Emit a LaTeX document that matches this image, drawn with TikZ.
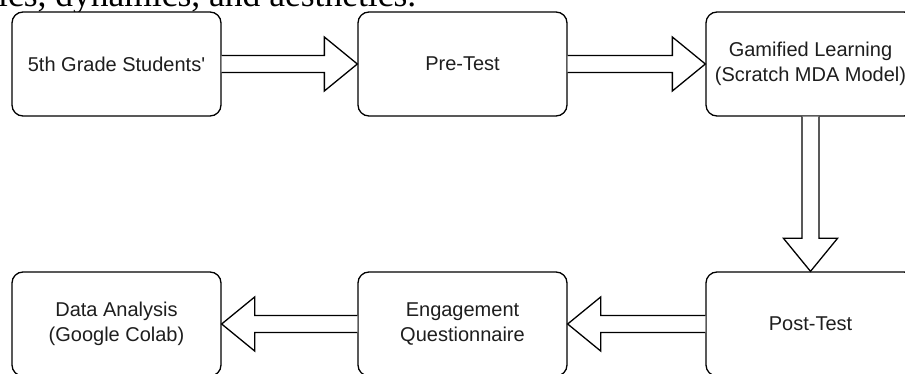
\documentclass[tikz,border=0pt]{standalone}
\usepackage{fontspec}
\setmainfont{Liberation Sans}[Ligatures=TeXOff]
\newfontfamily\serifcut{Liberation Serif}
\usetikzlibrary{calc}
\definecolor{txt}{HTML}{1E1E1E}
\tikzset{
  stepbox/.style={draw=black, line width=1.3pt, rounded corners=11pt, fill=white,
    minimum width=209pt, minimum height=104pt, inner sep=0pt, align=center,
    text=txt, font=\fontsize{20}{25}\selectfont},
  blockarrow/.style={draw=black, line width=1.3pt, fill=white, line join=miter,
    to path={
      let \p1=($(\tikztotarget)!33pt!(\tikztostart)$) in
      ($(\tikztostart)!8.5pt!90:(\tikztotarget)$) --
      ($(\p1)!8.5pt!90:(\tikztotarget)$) --
      ($(\p1)!27pt!90:(\tikztotarget)$) --
      (\tikztotarget) --
      ($(\p1)!27pt!-90:(\tikztotarget)$) --
      ($(\p1)!8.5pt!-90:(\tikztotarget)$) --
      ($(\tikztostart)!8.5pt!-90:(\tikztotarget)$)
    }}
}
\begin{document}
\begin{tikzpicture}[x=1pt,y=-1pt]
\useasboundingbox (0,0) rectangle (905,374);
\clip (0,0) rectangle (905,374);
\fill[white] (0,0) rectangle (905,374);
\node[anchor=base west, inner sep=0pt, font=\serifcut\fontsize{35.5}{38}\selectfont] (cut) at (-2,6.5) {ics, dynamics, and aesthetics.};
\node[stepbox] (s1) at (116.5,64) {5th Grade Students'};
\node[stepbox] (s2) at (462.5,64) {Pre-Test};
\node[stepbox] (s3) at (810.5,64) {Gamified Learning\\(Scratch MDA Model)};
\node[stepbox] (s6) at (810.5,324) {Post-Test};
\node[stepbox] (s5) at (462.5,324) {Engagement\\Questionnaire};
\node[stepbox] (s4) at (116.5,324) {Data Analysis\\(Google Colab)};
\draw[blockarrow] (s1.east) to (s2.west);
\draw[blockarrow] (s2.east) to (s3.west);
\draw[blockarrow] (s3.south) to (s6.north);
\draw[blockarrow] (s6.west) to (s5.east);
\draw[blockarrow] (s5.west) to (s4.east);
\end{tikzpicture}
\end{document}
